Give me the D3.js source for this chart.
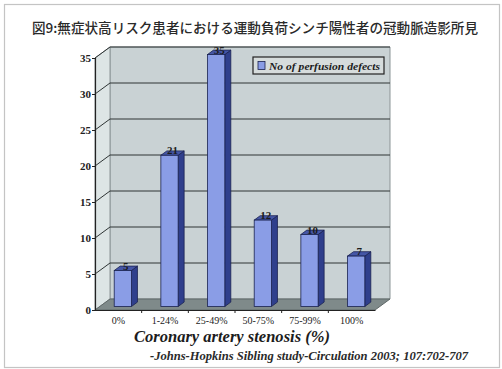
<!DOCTYPE html>
<html>
<head>
<meta charset="utf-8">
<script src="https://cdn.jsdelivr.net/npm/d3@7/dist/d3.min.js"></script>
<style>
  html, body { margin: 0; padding: 0; background: #ffffff; }
  svg { display: block; }
</style>
</head>
<body>
<svg id="chart" width="502" height="369"></svg>
<script>
// Chart content
const titleText = "図9:無症状高リスク患者における運動負荷シンチ陽性者の冠動脈造影所見";
const categories = ["0%", "1-24%", "25-49%", "50-75%", "75-99%", "100%"];
const defects = [5, 21, 35, 12, 10, 7];
const yTicks = [0, 5, 10, 15, 20, 25, 30, 35];
const seriesName = "No of perfusion defects";
const xAxisTitle = "Coronary artery stenosis (%)";
const sourceText = "-Johns-Hopkins Sibling study-Circulation 2003; 107:702-707";

const svg = d3.select("#chart");
const W = 502, H = 369;

// 3D plot geometry: front plane of the floor/wall, plus the depth offset of the back wall
const front = { left: 95, right: 375, bottom: 310, top: 58 };
const depth = { dx: 15, dy: -11 };
const barDepth = { dx: 6, dy: -4.4 };
const barShift = { dx: 4.5, dy: -3.5 };

const x = d3.scaleBand().domain(categories)
  .range([front.left, front.right])
  .paddingInner(0.63).paddingOuter(0.315);
const xStep = d3.scaleBand().domain(categories).range([front.left, front.right]);
const y = d3.scaleLinear().domain([0, 35]).range([front.bottom, front.top]);

const serif = "'Liberation Serif', 'DejaVu Serif', serif";

// outer frame
svg.append("rect").attr("x", 4.5).attr("y", 4.5).attr("width", W - 7).attr("height", H - 6)
  .attr("fill", "#ffffff").attr("stroke", "#c4c4c4").attr("stroke-width", 1.2);

// title
svg.append("text").attr("x", 255).attr("y", 33)
  .attr("text-anchor", "middle")
  .attr("font-family", "'Noto Sans CJK JP', sans-serif")
  .attr("font-size", 13.5).attr("font-weight", 500)
  .attr("fill", "#2a2a2a")
  .attr("textLength", 446).attr("lengthAdjust", "spacingAndGlyphs")
  .text(titleText);

const poly = pts => pts.map(p => p.join(",")).join(" ");
const g = svg.append("g");

const bx0 = front.left + depth.dx, bx1 = front.right + depth.dx;
const yBack = v => y(v) + depth.dy;

// back wall
g.append("polygon")
  .attr("points", poly([[bx0, yBack(35)], [bx1, yBack(35)], [bx1, yBack(0)], [bx0, yBack(0)]]))
  .attr("fill", "#c9d2d4").attr("stroke", "#8c9597").attr("stroke-width", 1);

// left side wall
g.append("polygon")
  .attr("points", poly([[front.left, y(35)], [bx0, yBack(35)], [bx0, yBack(0)], [front.left, y(0)]]))
  .attr("fill", "#dde5e5").attr("stroke", "#8c9597").attr("stroke-width", 1);

// floor
g.append("polygon")
  .attr("points", poly([[front.left, y(0)], [bx0, yBack(0)], [bx1, yBack(0)], [front.right, y(0)]]))
  .attr("fill", "#7f8a8a").attr("stroke", "#5f6868").attr("stroke-width", 1);

// gridlines across the back wall and side wall
yTicks.filter(v => v > 0).forEach(v => {
  g.append("line").attr("x1", bx0).attr("x2", bx1).attr("y1", yBack(v)).attr("y2", yBack(v))
    .attr("stroke", "#2f3535").attr("stroke-width", 1);
  g.append("line").attr("x1", front.left).attr("x2", bx0).attr("y1", y(v)).attr("y2", yBack(v))
    .attr("stroke", "#2f3535").attr("stroke-width", 1);
});

// value axis on the front edge of the side wall
const yAxis = d3.axisLeft(y).tickValues(yTicks).tickSize(3).tickPadding(1);
const ya = svg.append("g").attr("transform", `translate(${front.left},0)`).call(yAxis);
ya.select(".domain").attr("stroke", "#222").attr("stroke-width", 1.2);
ya.selectAll(".tick line").attr("stroke", "#222");
ya.selectAll(".tick text").attr("font-family", serif).attr("font-size", 11)
  .attr("font-weight", "bold").attr("fill", "#222");

// category axis along the front edge of the floor
const xAxis = d3.axisBottom(xStep).tickSize(0).tickPadding(7);
const xa = svg.append("g").attr("transform", `translate(0,${front.bottom})`).call(xAxis);
xa.select(".domain").attr("stroke", "#222").attr("stroke-width", 1);
xa.selectAll(".tick text").attr("font-family", serif).attr("font-size", 10)
  .attr("fill", "#222");
// small separators between categories
categories.slice(1).forEach(c => {
  svg.append("line").attr("x1", xStep(c)).attr("x2", xStep(c))
    .attr("y1", front.bottom).attr("y2", front.bottom + 3)
    .attr("stroke", "#222");
});

// 3D bars
const bars = svg.append("g").selectAll("g").data(categories.map((c, i) => ({ c, v: defects[i] })))
  .join("g");

bars.each(function (d) {
  const gb = d3.select(this);
  const x0 = x(d.c) + barShift.dx, x1 = x0 + x.bandwidth();
  const yb = y(0) + barShift.dy, yt = y(d.v) + barShift.dy;
  // side face
  gb.append("polygon")
    .attr("points", poly([[x1, yt], [x1 + barDepth.dx, yt + barDepth.dy], [x1 + barDepth.dx, yb + barDepth.dy], [x1, yb]]))
    .attr("fill", "#2f3f8c").attr("stroke", "#1a2250").attr("stroke-width", 0.8);
  // top face
  gb.append("polygon")
    .attr("points", poly([[x0, yt], [x0 + barDepth.dx, yt + barDepth.dy], [x1 + barDepth.dx, yt + barDepth.dy], [x1, yt]]))
    .attr("fill", "#4556a6").attr("stroke", "#1a2250").attr("stroke-width", 0.8);
  // front face
  gb.append("rect").attr("x", x0).attr("y", yt).attr("width", x.bandwidth()).attr("height", yb - yt)
    .attr("fill", "#8a9de6").attr("stroke", "#1a2250").attr("stroke-width", 0.8);
  // value label
  gb.append("text").attr("x", x0 + x.bandwidth() / 2 + 3).attr("y", yt - 1)
    .attr("text-anchor", "middle")
    .attr("font-family", serif).attr("font-size", 11).attr("font-weight", "bold")
    .attr("fill", "#1c1c1c")
    .text(d.v);
});

// legend
const lg = svg.append("g").attr("transform", "translate(253,57)");
lg.append("rect").attr("width", 131).attr("height", 17)
  .attr("fill", "#d6dcdc").attr("stroke", "#222").attr("stroke-width", 1.2);
lg.append("rect").attr("x", 5).attr("y", 4.5).attr("width", 7).attr("height", 8)
  .attr("fill", "#8a9de6").attr("stroke", "#1a2250").attr("stroke-width", 0.8);
lg.append("text").attr("x", 16).attr("y", 12.5)
  .attr("font-family", serif).attr("font-size", 10).attr("font-weight", "bold")
  .attr("font-style", "italic").attr("fill", "#1c1c1c")
  .attr("textLength", 111).attr("lengthAdjust", "spacingAndGlyphs")
  .text(seriesName);

// axis title
svg.append("text").attr("x", 232).attr("y", 342)
  .attr("text-anchor", "middle")
  .attr("font-family", serif).attr("font-size", 17).attr("font-weight", "bold")
  .attr("font-style", "italic").attr("fill", "#1c1c1c")
  .attr("textLength", 196).attr("lengthAdjust", "spacingAndGlyphs")
  .text(xAxisTitle);

// source line
svg.append("text").attr("x", 309).attr("y", 360)
  .attr("text-anchor", "middle")
  .attr("font-family", serif).attr("font-size", 11.5).attr("font-weight", "bold")
  .attr("font-style", "italic").attr("fill", "#2a2a2a")
  .attr("textLength", 318).attr("lengthAdjust", "spacingAndGlyphs")
  .text(sourceText);
</script>
</body>
</html>
